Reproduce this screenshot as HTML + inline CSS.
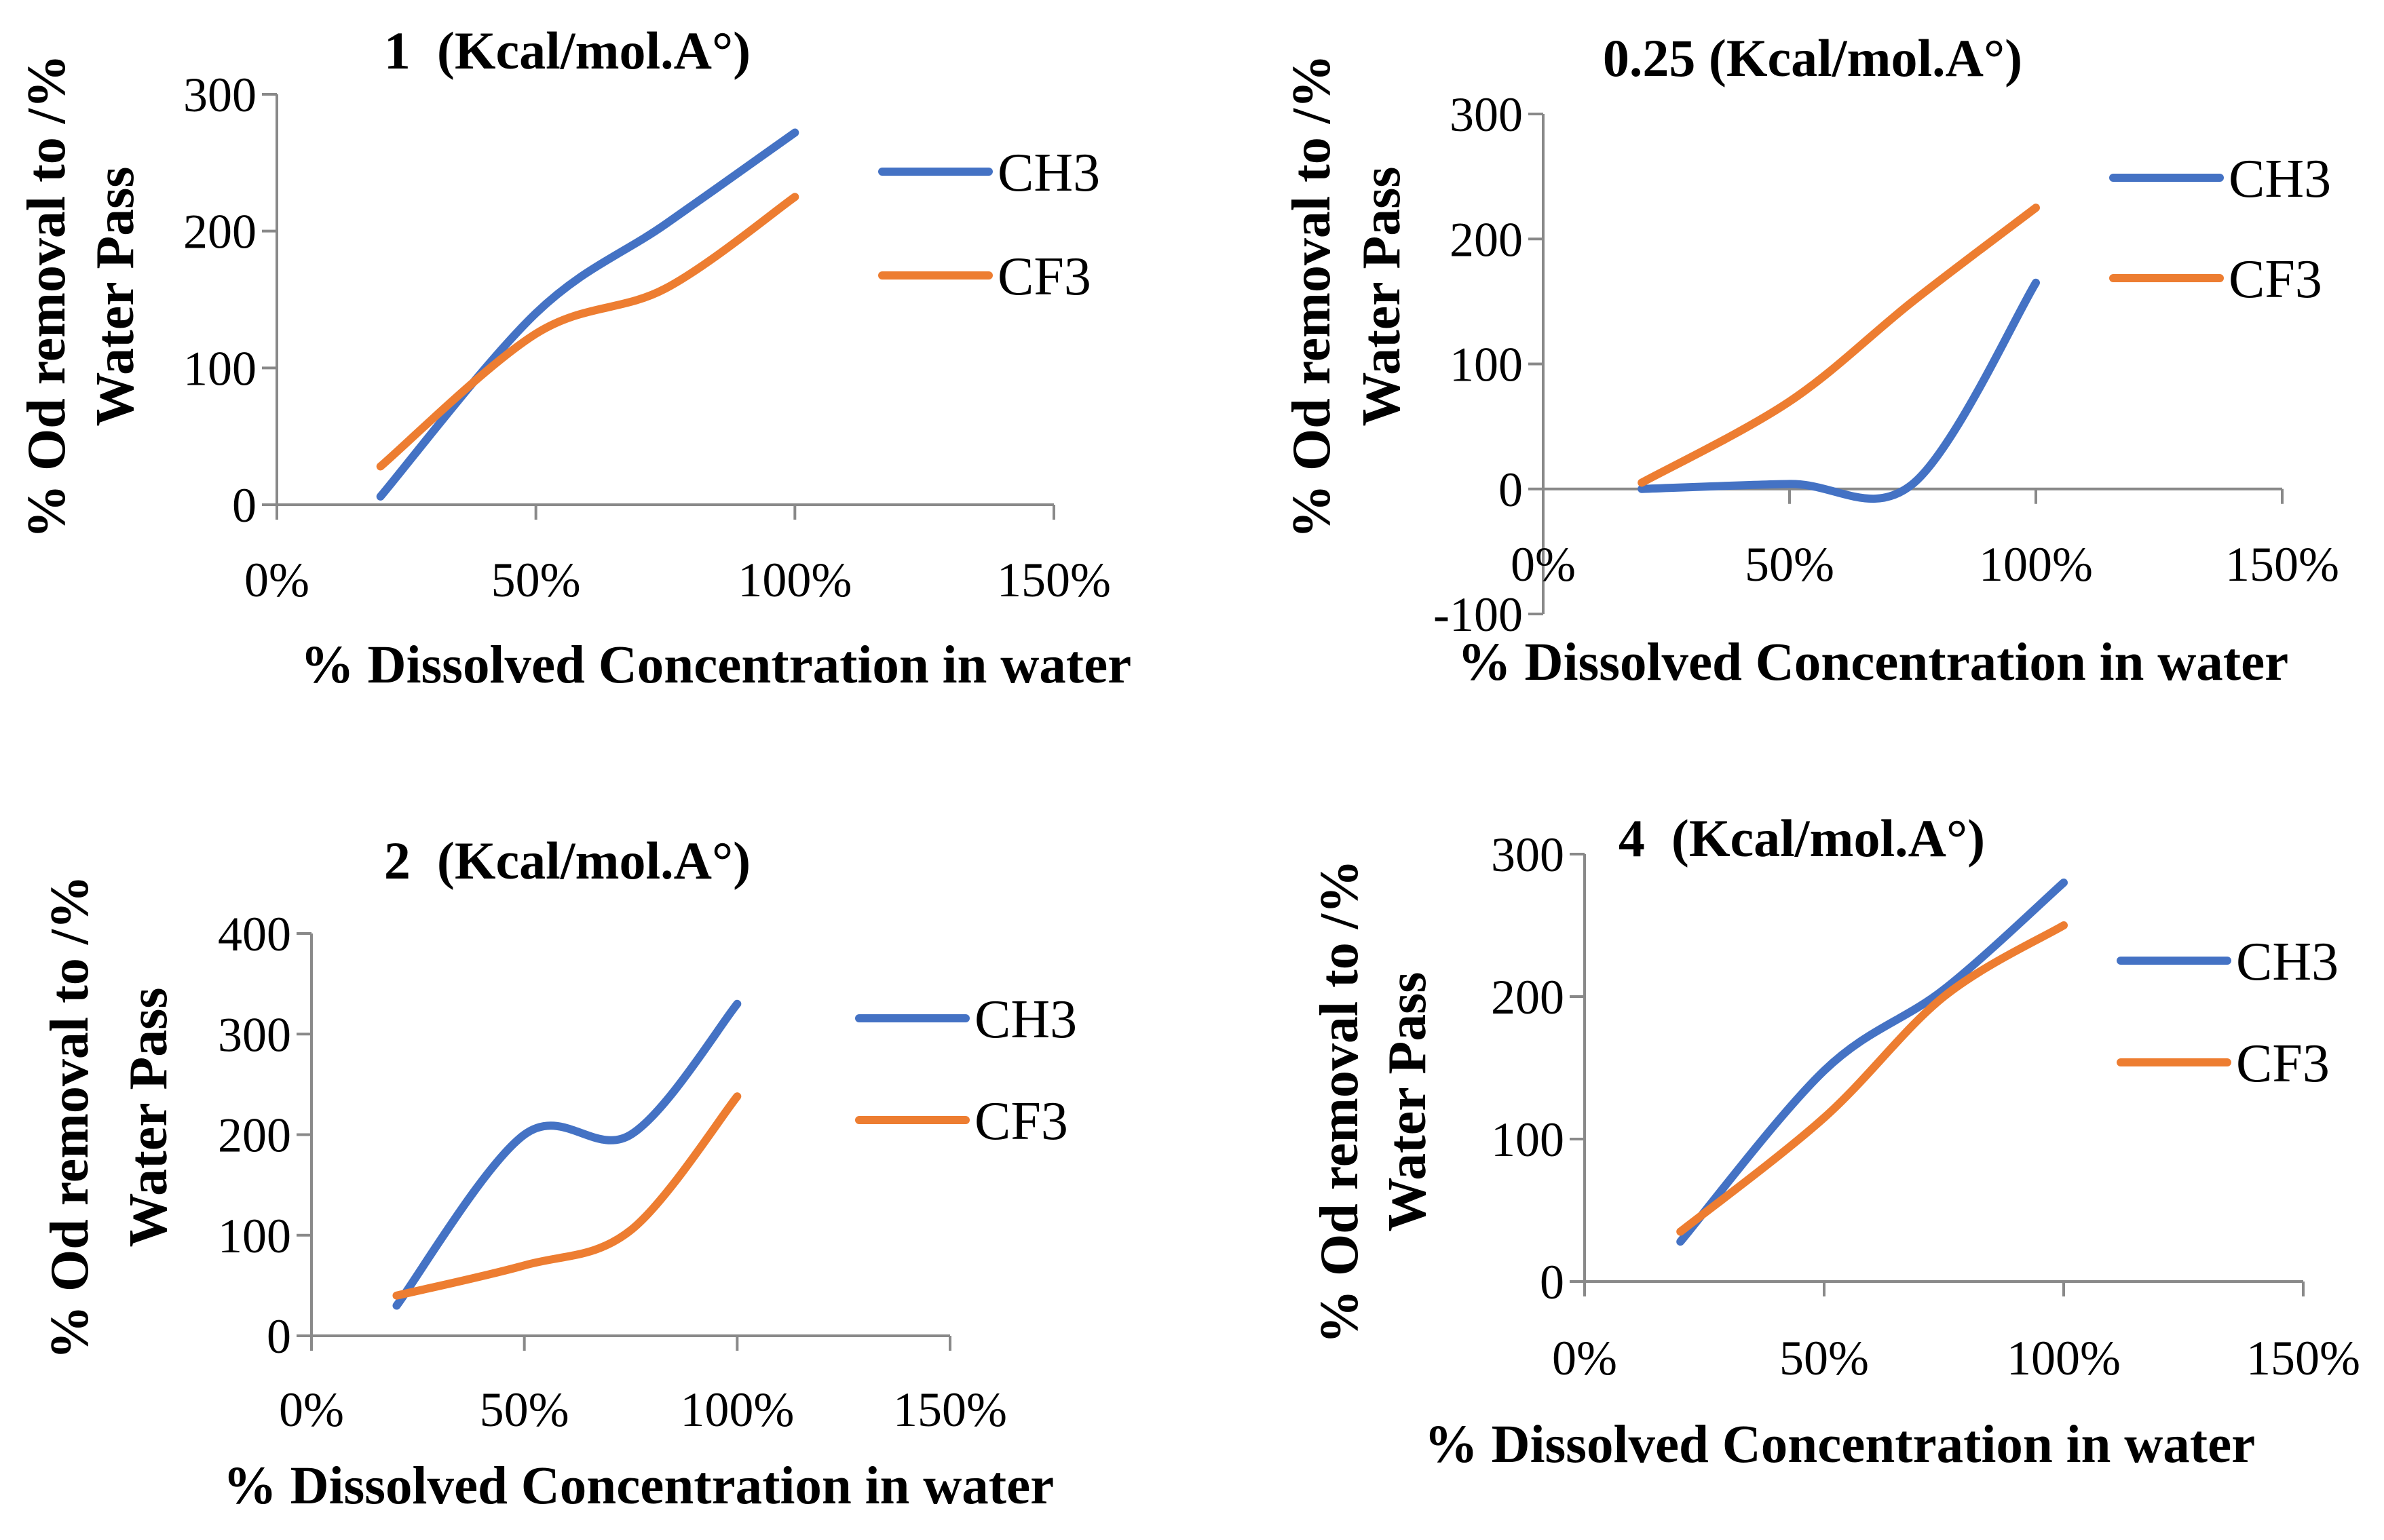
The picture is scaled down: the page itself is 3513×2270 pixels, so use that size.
<!DOCTYPE html>
<html><head><meta charset="utf-8"><style>
html,body{margin:0;padding:0;background:#fff;}
svg{display:block;}
text{font-family:"Liberation Serif",serif;fill:#000;white-space:pre;}
</style></head><body>
<svg id="fig" width="3513" height="2270" viewBox="0 0 3513 2270" xmlns="http://www.w3.org/2000/svg"></svg>
<script>
const xCats = [0.2, 0.5, 0.75, 1.0];
const xTicks = [0, 0.5, 1.0, 1.5];
const xTickLabels = ["0%", "50%", "100%", "150%"];
const seriesNames = ["CH3", "CF3"];

const c1Title = "1  (Kcal/mol.A°)";
const c1CH3 = [6, 140, 205, 272];
const c1CF3 = [28, 125, 158, 225];
const c1YTicks = [0, 100, 200, 300];

const c2Title = "0.25 (Kcal/mol.A°)";
const c2CH3 = [0, 4, 4, 165];
const c2CF3 = [5, 70, 150, 225];
const c2YTicks = [-100, 0, 100, 200, 300];

const c3Title = "2  (Kcal/mol.A°)";
const c3CH3 = [30, 200, 200, 330];
const c3CF3 = [40, 70, 105, 238];
const c3YTicks = [0, 100, 200, 300, 400];

const c4Title = "4  (Kcal/mol.A°)";
const c4CH3 = [28, 148, 205, 280];
const c4CF3 = [35, 115, 200, 250];
const c4YTicks = [0, 100, 200, 300];

const NS = "http://www.w3.org/2000/svg";
const svg = document.getElementById("fig");
function mk(tag, attrs, parent){
  const e = document.createElementNS(NS, tag);
  for (const k in attrs) e.setAttribute(k, attrs[k]);
  (parent||svg).appendChild(e);
  return e;
}
const colors = ["#4472C4", "#ED7D31"];

function smoothPath(pts){
  let d = "M" + pts[0][0] + "," + pts[0][1];
  const t = 1/6;
  for (let i = 0; i < pts.length-1; i++){
    const p0 = pts[i-1]||pts[i], p1 = pts[i], p2 = pts[i+1], p3 = pts[i+2]||pts[i+1];
    const c1x = p1[0] + (p2[0]-p0[0])*t, c1y = p1[1] + (p2[1]-p0[1])*t;
    const c2x = p2[0] - (p3[0]-p1[0])*t, c2y = p2[1] - (p3[1]-p1[1])*t;
    d += " C" + c1x + "," + c1y + " " + c2x + "," + c2y + " " + p2[0] + "," + p2[1];
  }
  return d;
}

function chart(cfg){
  const g = mk("g", {});
  
  
  const yMin = cfg.yTicks[0], yMax = cfg.yTicks[cfg.yTicks.length-1];
  const X = v => cfg.x0 + (v - xTicks[0])/(xTicks[xTicks.length-1]-xTicks[0])*(cfg.x1-cfg.x0);
  const Y = v => cfg.yB + (v - yMin)/(yMax-yMin)*(cfg.yT-cfg.yB);
  const y0 = Y(0);
  const ya = mk("line", {x1:cfg.x0, y1:cfg.yT, x2:cfg.x0, y2:cfg.yB, stroke:"#898989", "stroke-width":4}, g);
  
  
  cfg.yTicks.forEach(v => {
    const tk = mk("line", {x1:cfg.x0-22, y1:Y(v), x2:cfg.x0, y2:Y(v), stroke:"#898989", "stroke-width":4}, g);
    
    
    const tl = mk("text", {x:cfg.x0-30, y:Y(v)+25, "text-anchor":"end", "font-size":72}, g);
    tl.textContent = String(v);
    
    
  });
  const xa = mk("line", {x1:cfg.x0, y1:y0, x2:cfg.x1, y2:y0, stroke:"#898989", "stroke-width":4}, g);
  
  
  xTicks.forEach((v, i) => {
    const tk = mk("line", {x1:X(v), y1:y0, x2:X(v), y2:y0+22, stroke:"#898989", "stroke-width":4}, g);
    
    
    const tl = mk("text", {x:X(v), y:cfg.xLabY+25, "text-anchor":"middle", "font-size":72}, g);
    tl.textContent = xTickLabels[i];
    
    
  });
  [cfg.ch3, cfg.cf3].forEach((vals, si) => {
    const pts = xCats.map((c, i) => [X(c), Y(vals[i])]);
    const p = mk("path", {d:smoothPath(pts), fill:"none", stroke:colors[si], "stroke-width":12, "stroke-linecap":"round", "stroke-linejoin":"round"}, g);
    
    
    const ly = cfg.legY[si];
    const ll = mk("line", {x1:cfg.legX, y1:ly, x2:cfg.legX+157, y2:ly, stroke:colors[si], "stroke-width":12, "stroke-linecap":"round"}, g);
    
    
    const lt = mk("text", {x:cfg.legX+170, y:ly+28, "font-size":80}, g);
    lt.textContent = seriesNames[si];
    
    
  });
  const t = mk("text", {x:cfg.titleX, y:cfg.titleY+27, "text-anchor":"middle", "font-size":78, "font-weight":"bold"}, g);
  t.textContent = cfg.title;
  
  
  const xt = mk("text", {x:cfg.xTitleX, y:cfg.xTitleY+27, "text-anchor":"middle", "font-size":79, "font-weight":"bold"}, g);
  xt.textContent = "% Dissolved Concentration in water";
  
  
  const yt1 = mk("text", {x:0, y:0, "text-anchor":"middle", "font-size":80, "font-weight":"bold", transform:"translate(" + (cfg.yTitleX1+28) + "," + cfg.yTitleY + ") rotate(-90)"}, g);
  yt1.textContent = "% Od removal to /%";
  
  
  const yt2 = mk("text", {x:0, y:0, "text-anchor":"middle", "font-size":80, "font-weight":"bold", transform:"translate(" + (cfg.yTitleX2+28) + "," + cfg.yTitleY + ") rotate(-90)"}, g);
  yt2.textContent = "Water Pass";
  
  
}

chart({name:"chart-1-kcal", title:c1Title, ch3:c1CH3, cf3:c1CF3, yTicks:c1YTicks,
  x0:408, x1:1553, yT:139, yB:744, xLabY:854, titleX:836, titleY:74,
  xTitleX:1055, xTitleY:979, yTitleX1:67, yTitleX2:168, yTitleY:437,
  legX:1300, legY:[253, 406]});
chart({name:"chart-0-25-kcal", title:c2Title, ch3:c2CH3, cf3:c2CF3, yTicks:c2YTicks,
  x0:2274, x1:3363, yT:168, yB:905, xLabY:831, titleX:2671, titleY:85,
  xTitleX:2760, xTitleY:975, yTitleX1:1931, yTitleX2:2034, yTitleY:437,
  legX:3114, legY:[262, 410]});
chart({name:"chart-2-kcal", title:c3Title, ch3:c3CH3, cf3:c3CF3, yTicks:c3YTicks,
  x0:459, x1:1400, yT:1376, yB:1969, xLabY:2077, titleX:836, titleY:1268,
  xTitleX:941, xTitleY:2189, yTitleX1:101, yTitleX2:217, yTitleY:1647,
  legX:1266, legY:[1501, 1651]});
chart({name:"chart-4-kcal", title:c4Title, ch3:c4CH3, cf3:c4CF3, yTicks:c4YTicks,
  x0:2335, x1:3394, yT:1259, yB:1889, xLabY:2001, titleX:2655, titleY:1235,
  xTitleX:2711, xTitleY:2128, yTitleX1:1972, yTitleX2:2072, yTitleY:1624,
  legX:3125, legY:[1416, 1566]});
</script>
</body></html>
